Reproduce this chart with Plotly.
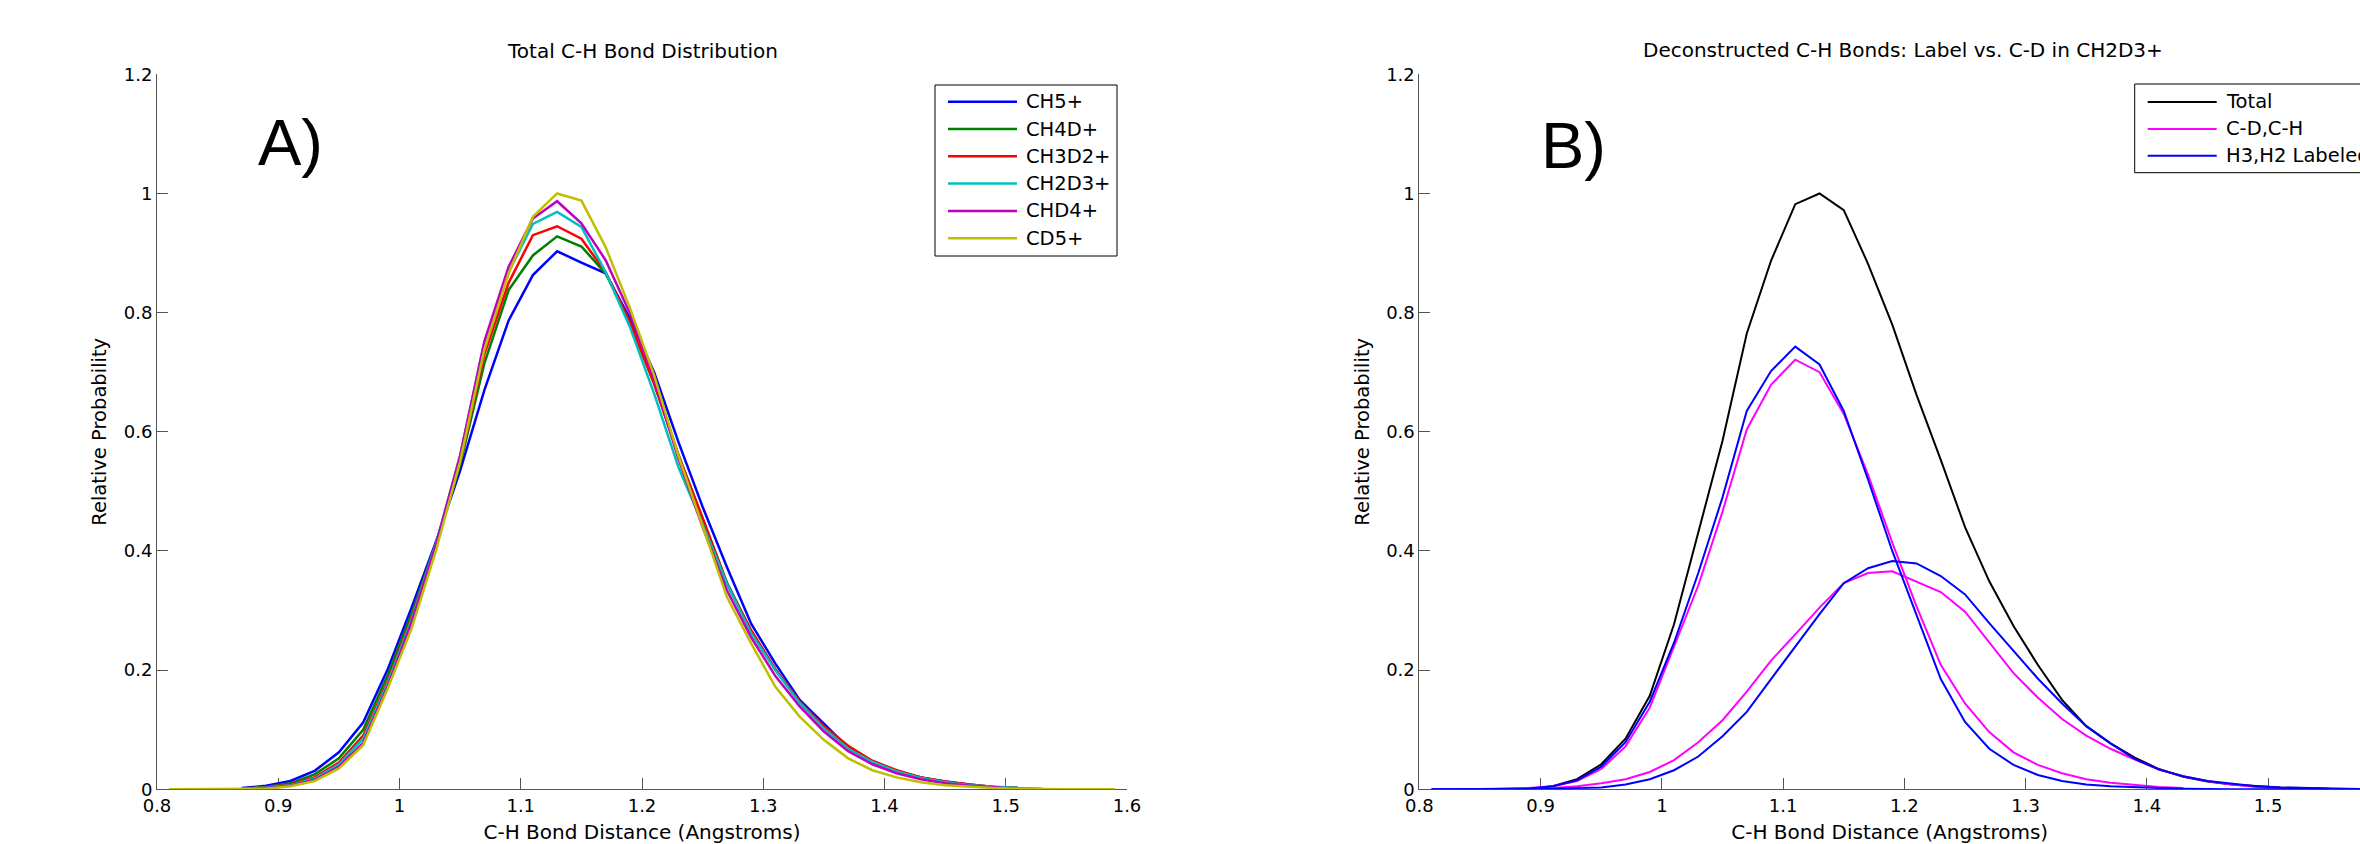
import plotly.graph_objects as go

# ---------------- data ----------------
bond_distance = [0.81, 0.83, 0.85, 0.87, 0.89, 0.91, 0.93, 0.95, 0.97, 0.99,
                 1.01, 1.03, 1.05, 1.07, 1.09, 1.11, 1.13, 1.15, 1.17, 1.19,
                 1.21, 1.23, 1.25, 1.27, 1.29, 1.31, 1.33, 1.35, 1.37, 1.39,
                 1.41, 1.43, 1.45, 1.47, 1.49, 1.51, 1.53, 1.55, 1.57, 1.59]

N = None
ch5 = [N, N, N, 0.002, 0.006, 0.014, 0.031, 0.062, 0.112, 0.200,
       0.305, 0.415, 0.535, 0.670, 0.787, 0.863, 0.903, 0.884, 0.866, 0.790,
       0.700, 0.583, 0.474, 0.373, 0.278, 0.211, 0.150, 0.110, 0.070, 0.046,
       0.030, 0.020, 0.013, 0.008, 0.004, 0.002, N, N, N, N]
ch4d = [N, N, N, 0.001, 0.004, 0.010, 0.025, 0.052, 0.100, 0.190,
        0.295, 0.412, 0.545, 0.715, 0.838, 0.896, 0.928, 0.911, 0.866, 0.784,
        0.681, 0.562, 0.455, 0.347, 0.266, 0.200, 0.146, 0.104, 0.071, 0.047,
        0.031, 0.020, 0.012, 0.007, 0.004, 0.002, N, N, N, N]
ch3d2 = [N, N, N, 0.001, 0.003, 0.008, 0.020, 0.045, 0.090, 0.180,
         0.288, 0.410, 0.550, 0.730, 0.850, 0.930, 0.945, 0.924, 0.868, 0.784,
         0.681, 0.560, 0.455, 0.345, 0.267, 0.202, 0.147, 0.106, 0.073, 0.048,
         0.032, 0.020, 0.013, 0.008, 0.004, 0.002, N, N, N, N]
ch2d3 = [N, N, N, 0.001, 0.003, 0.007, 0.018, 0.042, 0.085, 0.177,
         0.285, 0.412, 0.560, 0.750, 0.868, 0.949, 0.969, 0.944, 0.868, 0.776,
         0.664, 0.541, 0.445, 0.345, 0.262, 0.200, 0.145, 0.102, 0.068, 0.046,
         0.030, 0.019, 0.012, 0.007, 0.004, 0.002, 0.001, N, N, N]
chd4 = [N, N, N, 0.001, 0.002, 0.006, 0.016, 0.038, 0.078, 0.172,
        0.280, 0.410, 0.560, 0.752, 0.877, 0.958, 0.987, 0.950, 0.888, 0.799,
        0.688, 0.555, 0.440, 0.334, 0.255, 0.190, 0.139, 0.097, 0.064, 0.042,
        0.027, 0.017, 0.010, 0.006, 0.003, 0.001, N, N, N, N]
cd5 = [0.0, 0.0, 0.0, 0.0, 0.001, 0.005, 0.014, 0.035, 0.074, 0.168,
       0.270, 0.400, 0.550, 0.738, 0.866, 0.961, 1.000, 0.988, 0.910, 0.808,
       0.695, 0.560, 0.440, 0.323, 0.245, 0.172, 0.122, 0.083, 0.052, 0.032,
       0.020, 0.012, 0.007, 0.004, 0.002, 0.001, 0.0, 0.0, 0.0, 0.0]

total = [N, N, N, N, 0.001, 0.005, 0.017, 0.042, 0.085, 0.157,
         0.277, 0.431, 0.585, 0.765, 0.887, 0.982, 1.000, 0.972, 0.882, 0.780,
         0.662, 0.553, 0.440, 0.349, 0.274, 0.209, 0.150, 0.106, 0.077, 0.053,
         0.034, 0.021, 0.013, 0.008, 0.005, 0.003, 0.002, 0.001, N, N]
cd_main = [N, N, 0.0, 0.001, 0.002, 0.005, 0.014, 0.034, 0.072, 0.137,
           0.240, 0.342, 0.466, 0.604, 0.679, 0.721, 0.700, 0.630, 0.528, 0.414,
           0.307, 0.209, 0.144, 0.096, 0.062, 0.041, 0.027, 0.017, 0.011, 0.007,
           0.004, 0.002, N, N, N, N, N, N, N, N]
ch_main = [N, N, 0.0, 0.0, 0.001, 0.002, 0.005, 0.010, 0.017, 0.029,
           0.049, 0.079, 0.116, 0.164, 0.216, 0.260, 0.305, 0.346, 0.363, 0.366,
           0.349, 0.331, 0.298, 0.246, 0.195, 0.154, 0.118, 0.090, 0.068, 0.050,
           0.033, 0.022, 0.014, 0.008, 0.004, 0.002, N, N, N, N]
h3_label = [0.0, 0.0, 0.0, 0.0, 0.001, 0.005, 0.015, 0.038, 0.079, 0.147,
            0.246, 0.363, 0.490, 0.635, 0.702, 0.743, 0.713, 0.635, 0.520, 0.400,
            0.292, 0.185, 0.113, 0.068, 0.041, 0.024, 0.014, 0.008, 0.005, 0.003,
            0.002, 0.001, 0.0, 0.0, 0.0, 0.0, 0.0, 0.0, 0.0, 0.0]
h2_label = [0.0, 0.0, 0.0, 0.0, 0.0, 0.001, 0.002, 0.003, 0.008, 0.017,
            0.032, 0.055, 0.089, 0.130, 0.185, 0.240, 0.294, 0.346, 0.371, 0.383,
            0.379, 0.358, 0.327, 0.279, 0.233, 0.186, 0.144, 0.106, 0.077, 0.051,
            0.033, 0.022, 0.014, 0.009, 0.005, 0.003, 0.002, 0.001, 0.0, 0.0]

left_names = ["CH5+", "CH4D+", "CH3D2+", "CH2D3+", "CHD4+", "CD5+"]
left_series = [ch5, ch4d, ch3d2, ch2d3, chd4, cd5]
left_colors = ["#0000ff", "#008000", "#ff0000", "#00bfbf", "#bf00bf", "#bfbf00"]

right_names = ["Total", "C-D,C-H", "C-D,C-H", "H3,H2 Labeled", "H3,H2 Labeled"]
right_series = [total, cd_main, ch_main, h3_label, h2_label]
right_colors = ["#000000", "#ff00ff", "#ff00ff", "#0000ff", "#0000ff"]
right_in_legend = [True, True, False, True, False]

x_ticks = [0.8, 0.9, 1.0, 1.1, 1.2, 1.3, 1.4, 1.5, 1.6]
y_ticks = [0, 0.2, 0.4, 0.6, 0.8, 1.0, 1.2]

# ---------------- figure ----------------
W, H = 2360, 844
FONT = "DejaVu Sans, Liberation Sans, Arial, sans-serif"
BIG = "Liberation Sans, Arial, sans-serif"
AX = "#555555"


def px_x(p):
    return p / W


def px_y(p):
    return (H - p) / H


fig = go.Figure()
for name, ys, col in zip(left_names, left_series, left_colors):
    fig.add_trace(go.Scatter(x=bond_distance, y=ys, mode="lines", name=name,
                             line=dict(color=col, width=2.5), showlegend=False,
                             xaxis="x", yaxis="y"))
for name, ys, col in zip(right_names, right_series, right_colors):
    fig.add_trace(go.Scatter(x=bond_distance, y=ys, mode="lines", name=name,
                             line=dict(color=col, width=2), showlegend=False,
                             xaxis="x2", yaxis="y2"))

ydom = [px_y(789.3), px_y(74.3)]
common_axis = dict(showline=True, linecolor=AX, linewidth=1, ticks="inside",
                   ticklen=11, tickcolor=AX, tickwidth=1, showgrid=False,
                   zeroline=False, layer="below traces",
                   tickfont=dict(family=FONT, size=18, color="black"),
                   mirror=False)
xtitle = dict(text="C-H Bond Distance (Angstroms)",
              font=dict(family=FONT, size=20, color="black"), standoff=13)
ytitle = dict(text="Relative Probability",
              font=dict(family=FONT, size=19.5, color="black"), standoff=11)

annotations = [
    dict(text="Total C-H Bond Distribution", x=px_x(642), y=px_y(51),
         xref="paper", yref="paper", xanchor="center", yanchor="middle",
         showarrow=False, font=dict(family=FONT, size=20, color="black")),
    dict(text="Deconstructed C-H Bonds: Label vs. C-D in CH2D3+", x=px_x(1903), y=px_y(50),
         xref="paper", yref="paper", xanchor="center", yanchor="middle",
         showarrow=False, font=dict(family=FONT, size=20, color="black")),
    dict(text="A)", x=px_x(290), y=px_y(142), xref="paper", yref="paper",
         xanchor="center", yanchor="middle", showarrow=False,
         font=dict(family=BIG, size=65, color="black")),
    dict(text="B)", x=px_x(1573), y=px_y(145), xref="paper", yref="paper",
         xanchor="center", yanchor="middle", showarrow=False,
         font=dict(family=BIG, size=65, color="black")),
]
shapes = []


def add_legend(names, colors, box, first_row, row_gap, lw):
    x0, y0, x1, y1 = box
    shapes.append(dict(type="rect", xref="paper", yref="paper",
                       x0=px_x(x0), x1=px_x(x1), y0=px_y(y1), y1=px_y(y0),
                       line=dict(color="black", width=1), fillcolor="white",
                       layer="above"))
    for i, (nm, col) in enumerate(zip(names, colors)):
        yy = first_row + i * row_gap
        shapes.append(dict(type="line", xref="paper", yref="paper",
                           x0=px_x(x0 + 13), x1=px_x(x0 + 82),
                           y0=px_y(yy), y1=px_y(yy),
                           line=dict(color=col, width=lw), layer="above"))
        annotations.append(dict(text=nm, x=px_x(x0 + 89), y=px_y(yy),
                                xref="paper", yref="paper", xanchor="left",
                                yanchor="middle", showarrow=False,
                                font=dict(family=FONT, size=19.5, color="black")))


add_legend(left_names, left_colors, (935, 85, 1117, 256), 101.7, 27.3, 2.5)
add_legend([n for n, s in zip(right_names, right_in_legend) if s],
           [c for c, s in zip(right_colors, right_in_legend) if s],
           (2134.7, 84, 2420, 172.7), 102, 26.9, 2)

fig.update_layout(
    width=W, height=H,
    paper_bgcolor="white", plot_bgcolor="white",
    margin=dict(l=0, r=0, t=0, b=0, autoexpand=False),
    font=dict(family=FONT, color="black"),
    showlegend=False,
    xaxis=dict(domain=[px_x(157), px_x(1127)], range=[0.8, 1.6], tickvals=x_ticks,
               anchor="y", title=xtitle, **common_axis),
    yaxis=dict(domain=ydom, range=[0, 1.2], tickvals=y_ticks, anchor="x",
               title=ytitle, **common_axis),
    xaxis2=dict(domain=[px_x(1419.4), 1.0], range=[0.8, 0.8 + (W - 1419.4) / 1212.5],
                tickvals=x_ticks, anchor="y2", title=xtitle, **common_axis),
    yaxis2=dict(domain=ydom, range=[0, 1.2], tickvals=y_ticks, anchor="x2",
                title=ytitle, **common_axis),
    annotations=annotations,
    shapes=shapes,
)

fig.write_html("out.html", config={"displayModeBar": False},
               post_script="document.body.style.margin='0px';")
